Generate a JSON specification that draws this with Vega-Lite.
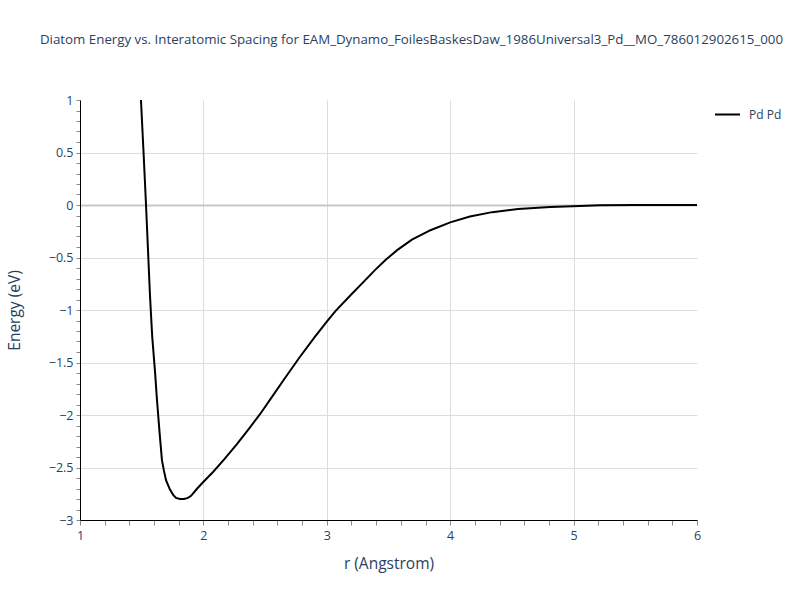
{
  "$schema": "https://vega.github.io/schema/vega-lite/v6.json",
  "autosize": "none",
  "width": 617,
  "height": 420,
  "padding": {"left": 80, "top": 100, "right": 103, "bottom": 80},
  "background": "white",
  "config": {
    "font": "Open Sans",
    "view": {"stroke": null},
    "axis": {"labelFont": "Open Sans", "titleFont": "Open Sans", "labelColor": "#2a3f5f", "titleColor": "#2a3f5f", "labelFontSize": 12.5, "titleFontSize": 15.5, "titleFontWeight": "normal", "gridColor": "#dddddd", "gridWidth": 1, "domainColor": "#000000", "domainWidth": 1, "labelOverlap": false}
  },
  "title": {"text": "Diatom Energy vs. Interatomic Spacing for EAM_Dynamo_FoilesBaskesDaw_1986Universal3_Pd__MO_786012902615_000", "font": "Open Sans", "fontSize": 13.3, "fontWeight": "normal", "color": "#2a3f5f", "anchor": "middle", "dx": 23, "offset": 48},
  "data": {"values": [
    {"r": 1.48, "E": 1.30, "s": "Pd Pd"},
    {"r": 1.494, "E": 1.0, "s": "Pd Pd"},
    {"r": 1.515, "E": 0.5, "s": "Pd Pd"},
    {"r": 1.535, "E": 0.0, "s": "Pd Pd"},
    {"r": 1.55, "E": -0.40, "s": "Pd Pd"},
    {"r": 1.567, "E": -0.86, "s": "Pd Pd"},
    {"r": 1.585, "E": -1.25, "s": "Pd Pd"},
    {"r": 1.608, "E": -1.59, "s": "Pd Pd"},
    {"r": 1.624, "E": -1.86, "s": "Pd Pd"},
    {"r": 1.645, "E": -2.17, "s": "Pd Pd"},
    {"r": 1.664, "E": -2.43, "s": "Pd Pd"},
    {"r": 1.68, "E": -2.53, "s": "Pd Pd"},
    {"r": 1.697, "E": -2.62, "s": "Pd Pd"},
    {"r": 1.729, "E": -2.71, "s": "Pd Pd"},
    {"r": 1.755, "E": -2.76, "s": "Pd Pd"},
    {"r": 1.778, "E": -2.79, "s": "Pd Pd"},
    {"r": 1.81, "E": -2.80, "s": "Pd Pd"},
    {"r": 1.843, "E": -2.80, "s": "Pd Pd"},
    {"r": 1.875, "E": -2.79, "s": "Pd Pd"},
    {"r": 1.90, "E": -2.77, "s": "Pd Pd"},
    {"r": 1.95, "E": -2.70, "s": "Pd Pd"},
    {"r": 1.997, "E": -2.64, "s": "Pd Pd"},
    {"r": 2.08, "E": -2.54, "s": "Pd Pd"},
    {"r": 2.17, "E": -2.42, "s": "Pd Pd"},
    {"r": 2.27, "E": -2.28, "s": "Pd Pd"},
    {"r": 2.37, "E": -2.13, "s": "Pd Pd"},
    {"r": 2.46, "E": -1.99, "s": "Pd Pd"},
    {"r": 2.56, "E": -1.82, "s": "Pd Pd"},
    {"r": 2.66, "E": -1.65, "s": "Pd Pd"},
    {"r": 2.78, "E": -1.45, "s": "Pd Pd"},
    {"r": 2.90, "E": -1.26, "s": "Pd Pd"},
    {"r": 3.0, "E": -1.11, "s": "Pd Pd"},
    {"r": 3.07, "E": -1.01, "s": "Pd Pd"},
    {"r": 3.2, "E": -0.85, "s": "Pd Pd"},
    {"r": 3.3, "E": -0.73, "s": "Pd Pd"},
    {"r": 3.39, "E": -0.62, "s": "Pd Pd"},
    {"r": 3.48, "E": -0.52, "s": "Pd Pd"},
    {"r": 3.57, "E": -0.43, "s": "Pd Pd"},
    {"r": 3.69, "E": -0.33, "s": "Pd Pd"},
    {"r": 3.84, "E": -0.24, "s": "Pd Pd"},
    {"r": 4.0, "E": -0.165, "s": "Pd Pd"},
    {"r": 4.16, "E": -0.11, "s": "Pd Pd"},
    {"r": 4.34, "E": -0.068, "s": "Pd Pd"},
    {"r": 4.55, "E": -0.038, "s": "Pd Pd"},
    {"r": 4.81, "E": -0.019, "s": "Pd Pd"},
    {"r": 5.05, "E": -0.009, "s": "Pd Pd"},
    {"r": 5.21, "E": -0.003, "s": "Pd Pd"},
    {"r": 5.5, "E": -0.001, "s": "Pd Pd"},
    {"r": 6.0, "E": 0.0, "s": "Pd Pd"}
  ]},
  "mark": {"type": "line", "color": "#000000", "strokeWidth": 2, "clip": true},
  "encoding": {
    "x": {"field": "r", "type": "quantitative", "scale": {"domain": [1, 6], "nice": false, "zero": false},
      "axis": {"title": "r (Angstrom)", "titlePadding": 15,
        "values": [1,1.2,1.4,1.6,1.8,2,2.2,2.4,2.6,2.8,3,3.2,3.4,3.6,3.8,4,4.2,4.4,4.6,4.8,5,5.2,5.4,5.6,5.8,6],
        "labelExpr": "abs(datum.value - round(datum.value)) < 0.01 ? format(datum.value, 'd') : ''",
        "labelFlush": false, "labelPadding": 4,
        "tickColor": "#888888",
        "tickSize": 5,
        "gridOpacity": {"condition": {"test": "abs(datum.value - round(datum.value)) < 0.01 && datum.value > 1.5 && datum.value < 5.5", "value": 1}, "value": 0}
      }},
    "y": {"field": "E", "type": "quantitative", "scale": {"domain": [-3, 1], "nice": false, "zero": false},
      "axis": {"title": "Energy (eV)", "titlePadding": 26,
        "values": [-3,-2.9,-2.8,-2.7,-2.6,-2.5,-2.4,-2.3,-2.2,-2.1,-2,-1.9,-1.8,-1.7,-1.6,-1.5,-1.4,-1.3,-1.2,-1.1,-1,-0.9,-0.8,-0.7,-0.6,-0.5,-0.4,-0.3,-0.2,-0.1,0,0.1,0.2,0.3,0.4,0.5,0.6,0.7,0.8,0.9,1],
        "labelExpr": "abs(datum.value*2 - round(datum.value*2)) < 0.01 ? format(datum.value, '') : ''",
        "labelFlush": false, "labelPadding": 3,
        "tickColor": "#888888",
        "tickSize": 4,
        "gridOpacity": {"condition": {"test": "abs(datum.value*2 - round(datum.value*2)) < 0.01 && datum.value > -2.9 && datum.value < 0.9", "value": 1}, "value": 0},
        "gridColor": {"condition": {"test": "abs(datum.value) < 0.01", "value": "#c8c8c8"}, "value": "#dddddd"},
        "gridWidth": {"condition": {"test": "abs(datum.value) < 0.01", "value": 2}, "value": 1}
      }},
    "color": {"field": "s", "type": "nominal", "scale": {"range": ["#000000"]},
      "legend": {"title": null, "orient": "none", "legendX": 634, "legendY": 1, "symbolType": "stroke", "symbolSize": 625, "symbolStrokeWidth": 2, "labelFontSize": 12, "labelColor": "#2a3f5f", "labelFont": "Open Sans", "labelOffset": 8, "padding": 0}}
  }
}
